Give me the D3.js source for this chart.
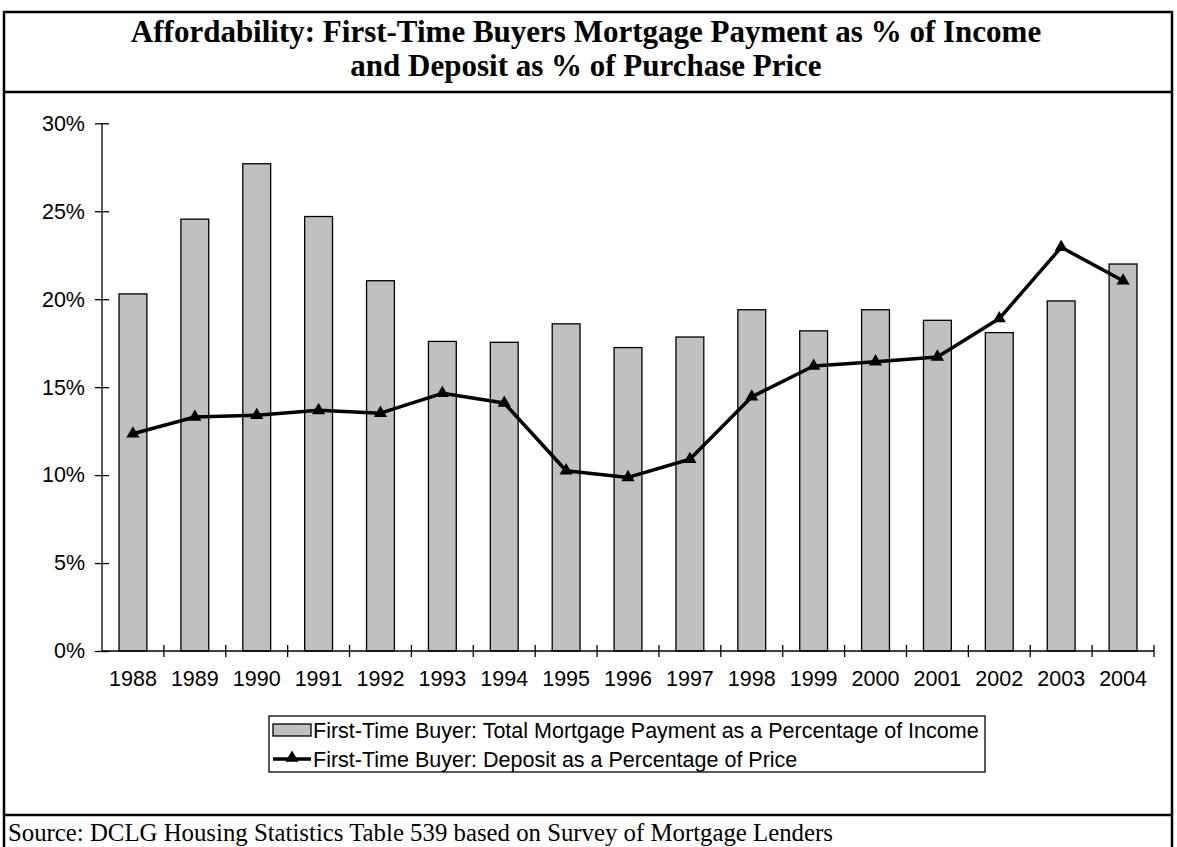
<!DOCTYPE html>
<html>
<head>
<meta charset="utf-8">
<script src="https://cdn.jsdelivr.net/npm/d3@7"></script>
<style>
  html, body { margin: 0; padding: 0; background: #fff; }
  svg { display: block; }
</style>
</head>
<body>
<svg id="chart" width="1177" height="847"></svg>
<script>
// Years on the category axis
const years = ["1988","1989","1990","1991","1992","1993","1994","1995","1996","1997","1998","1999","2000","2001","2002","2003","2004"];
// Total mortgage payment as % of income (bars)
const paymentPct = [20.3, 24.55, 27.7, 24.7, 21.05, 17.6, 17.55, 18.6, 17.25, 17.85, 19.4, 18.2, 19.4, 18.8, 18.1, 19.9, 22.0];
// Deposit as % of purchase price (line)
const depositPct = [12.35, 13.3, 13.4, 13.68, 13.52, 14.65, 14.1, 10.25, 9.87, 10.9, 14.45, 16.2, 16.45, 16.72, 18.9, 22.95, 21.05];
// Value-axis tick values
const yTicks = [0, 5, 10, 15, 20, 25, 30];

const titleLines = [
  "Affordability: First-Time Buyers Mortgage Payment as % of Income",
  "and Deposit as % of Purchase Price"
];
const legendLabels = [
  "First-Time Buyer: Total Mortgage Payment as a Percentage of Income",
  "First-Time Buyer: Deposit as a Percentage of Price"
];
const sourceText = "Source: DCLG Housing Statistics Table 539 based on Survey of Mortgage Lenders";

const svg = d3.select("#chart");
const sans = "Arial, 'Liberation Sans', sans-serif";
const serif = "'Times New Roman', 'Liberation Serif', serif";
const labelSize = 21.5;

// Frame: outer border, title band, source band
const frame = svg.append("g").attr("fill", "none").attr("stroke", "#000").attr("stroke-width", 2.5);
frame.append("rect").attr("x", 4).attr("y", 12).attr("width", 1168).attr("height", 850);
frame.append("line").attr("x1", 4).attr("x2", 1172).attr("y1", 92).attr("y2", 92);
frame.append("line").attr("x1", 4).attr("x2", 1172).attr("y1", 815).attr("y2", 815);

svg.append("g").selectAll("text").data(titleLines).join("text")
  .attr("x", 586).attr("y", (d, i) => 42 + i * 34)
  .attr("text-anchor", "middle")
  .attr("font-family", serif).attr("font-weight", "bold").attr("font-size", 31)
  .text(d => d);

svg.append("text")
  .attr("x", 8).attr("y", 841)
  .attr("font-family", serif).attr("font-size", 24.8)
  .text(sourceText);

// Plot area
const x0 = 102, x1 = 1154, yTop = 123.3, yBot = 651;
const x = d3.scaleBand().domain(years).range([x0, x1]).paddingInner(0.55).paddingOuter(0.275);
const y = d3.scaleLinear().domain([0, 30]).range([yBot, yTop]);
const step = x.step();

// Bars
svg.append("g").selectAll("rect").data(years).join("rect")
  .attr("x", d => x(d))
  .attr("y", (d, i) => y(paymentPct[i]))
  .attr("width", x.bandwidth())
  .attr("height", (d, i) => yBot - y(paymentPct[i]))
  .attr("fill", "#c0c0c0").attr("stroke", "#000").attr("stroke-width", 1.3);

// Value axis with ticks crossing the axis line
const yAxis = svg.append("g").attr("transform", `translate(${x0},0)`)
  .call(d3.axisLeft(y).tickValues(yTicks).tickFormat(d => d + "%").tickSize(7).tickPadding(10));
yAxis.select(".domain").remove();
yAxis.append("line").attr("x1", 0).attr("x2", 0).attr("y1", yTop).attr("y2", yBot).attr("stroke", "#000").attr("stroke-width", 1.3);
yAxis.selectAll(".tick line").attr("x1", -7).attr("x2", 7).attr("stroke-width", 1.3);
yAxis.selectAll(".tick text").attr("font-family", sans).attr("font-size", labelSize).attr("fill", "#000");

// Category axis: tick marks on category boundaries, labels centered
const xAxis = svg.append("g").attr("transform", `translate(0,${yBot})`)
  .call(d3.axisBottom(x).tickSize(0).tickPadding(20));
xAxis.select(".domain").remove();
xAxis.append("line").attr("x1", x0).attr("x2", x1).attr("stroke", "#000").attr("stroke-width", 1.3);
xAxis.selectAll(".tick text").attr("font-family", sans).attr("font-size", labelSize).attr("fill", "#000");
const bounds = d3.range(1, years.length + 1).map(i => x0 + i * step);
xAxis.append("g").selectAll("line").data(bounds).join("line")
  .attr("x1", d => d).attr("x2", d => d).attr("y1", -6).attr("y2", 6)
  .attr("stroke", "#000").attr("stroke-width", 1.3);

// Deposit line with triangle markers
const cx = d => x(d) + x.bandwidth() / 2;
const line = d3.line().x((d, i) => cx(years[i])).y(d => y(d));
svg.append("path").datum(depositPct)
  .attr("d", line).attr("fill", "none").attr("stroke", "#000").attr("stroke-width", 3.5)
  .attr("stroke-linejoin", "round");
const tri = d3.symbol().type(d3.symbolTriangle).size(75);
svg.append("g").selectAll("path").data(depositPct).join("path")
  .attr("transform", (d, i) => `translate(${cx(years[i])},${y(d)})`)
  .attr("d", tri).attr("fill", "#000");

// Legend
const lg = svg.append("g");
lg.append("rect").attr("x", 269).attr("y", 716).attr("width", 716).attr("height", 56)
  .attr("fill", "#fff").attr("stroke", "#000").attr("stroke-width", 1.3);
lg.append("rect").attr("x", 273).attr("y", 724).attr("width", 38).attr("height", 12)
  .attr("fill", "#c0c0c0").attr("stroke", "#000").attr("stroke-width", 1.3);
lg.append("line").attr("x1", 273).attr("x2", 311).attr("y1", 759).attr("y2", 759)
  .attr("stroke", "#000").attr("stroke-width", 3.5);
lg.append("path").attr("transform", "translate(292,758)").attr("d", tri).attr("fill", "#000");
lg.selectAll("text").data(legendLabels).join("text")
  .attr("x", 313).attr("y", (d, i) => 738 + i * 29)
  .attr("font-family", sans).attr("font-size", labelSize).attr("fill", "#000")
  .text(d => d);
</script>
</body>
</html>
